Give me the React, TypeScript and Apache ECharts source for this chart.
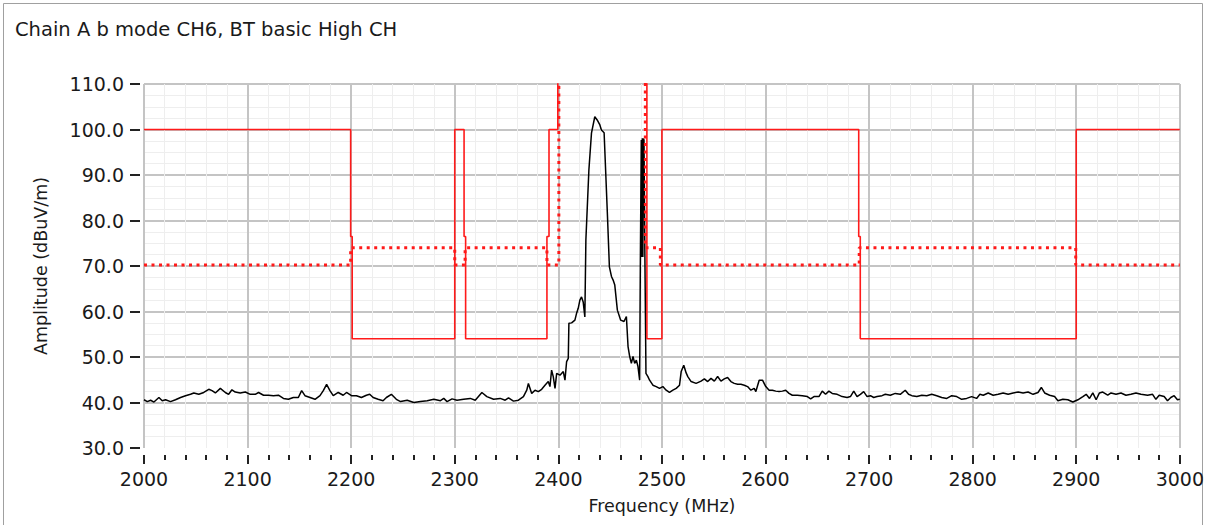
import React, { useEffect, useRef } from "react";
import * as echarts from "echarts";

const titleText = "Chain A b mode CH6, BT basic High CH";
const xAxisName = "Frequency (MHz)";
const yAxisName = "Amplitude (dBuV/m)";

// Measured trace (MHz, dBuV/m)
const traceFreq = [
  2000, 2003.2, 2006.4, 2009.6, 2014.4, 2017.6, 2020.8, 2025.6, 2030.4, 2035.3, 2040.1, 2044.9, 2048.1, 2052.9, 2057.7, 2062.5, 2065.7, 2068.9, 2073.7, 2078.5,
  2081.7, 2084.9, 2088.1, 2092.9, 2097.8, 2102.6, 2107.4, 2110.6, 2115.4, 2120.2, 2125, 2129.8, 2134.6, 2139.4, 2144.2, 2149, 2152.2, 2155.4, 2160.3, 2165.1,
  2169.9, 2173.1, 2176.3, 2179.5, 2182.7, 2187.5, 2192.3, 2195.5, 2200.3, 2205.1, 2209.9, 2214.7, 2217.9, 2221.2, 2226, 2230.8, 2234, 2238.8, 2243.6, 2247.7,
  2254.1, 2260.5, 2266.9, 2273.4, 2279.8, 2286.2, 2289.4, 2292.6, 2297.4, 2302.2, 2308.6, 2315, 2319.8, 2326.2, 2331, 2337.5, 2343.9, 2348.7, 2351.9, 2356.7,
  2361.5, 2366.3, 2369.5, 2371.1, 2374.3, 2377.5, 2380.7, 2383.9, 2387.1, 2390.3, 2391.9, 2393.5, 2395.1, 2396.8, 2398.4, 2401.6, 2404.8, 2406.4, 2408, 2409.6,
  2410.2, 2412.8, 2416, 2417.6, 2419.2, 2420.8, 2422.4, 2424, 2425.6, 2426.6, 2429.5, 2432, 2435.2, 2437.5, 2440.1, 2441.6, 2444.2, 2447.4, 2449.3, 2451.3,
  2452.9, 2454.5, 2457, 2460.2, 2463.4, 2465.7, 2467.3, 2468.9, 2470.5, 2472.1, 2473.7, 2475.3, 2476.9, 2478.5, 2479.2, 2480.1, 2480.6, 2481.1, 2481.6, 2482.1,
  2482.7, 2483.6, 2484.6, 2486.5, 2488.1, 2491.3, 2494.5, 2497.7, 2500.9, 2504.1, 2507.3, 2510.6, 2513.8, 2517, 2518.6, 2521.1, 2523.4, 2525, 2528.2, 2533,
  2537.8, 2541, 2544.2, 2547.4, 2550.6, 2553.8, 2557, 2560.2, 2563.4, 2566.6, 2569.8, 2573.1, 2576.3, 2579.5, 2582.7, 2585.9, 2589.1, 2590.7, 2593.9, 2597.1,
  2600.3, 2603.5, 2606.7, 2609.9, 2613.1, 2616.3, 2619.5, 2622.7, 2625.9, 2630.7, 2635.5, 2640.4, 2643.6, 2646.8, 2651.6, 2654.8, 2658, 2661.2, 2664.4, 2669.2,
  2674, 2678.8, 2682, 2685.2, 2688.4, 2691.6, 2694.8, 2698.1, 2701.3, 2704.5, 2707.7, 2712.5, 2715.7, 2720.5, 2725.3, 2730.1, 2734.9, 2738.1, 2741.3, 2746.1,
  2750.9, 2755.7, 2760.5, 2765.3, 2770.1, 2775, 2779.8, 2784.6, 2789.4, 2794.2, 2799, 2803.8, 2807, 2810.2, 2815, 2819.8, 2824.6, 2829.4, 2834.3, 2839.1,
  2843.9, 2848.7, 2853.5, 2858.3, 2863.1, 2866.3, 2869.5, 2874.3, 2879.1, 2882.3, 2887.1, 2891.9, 2896.7, 2901.6, 2906.4, 2909.6, 2912.8, 2916, 2919.2, 2922.4,
  2925.6, 2930.4, 2933.6, 2938.4, 2943.2, 2948, 2952.8, 2957.6, 2962.5, 2968.9, 2973.7, 2976.9, 2980.1, 2984.9, 2988.1, 2991.3, 2994.5, 2997.7, 3000,
];
const traceAmp = [
  40.6, 40.2, 40.5, 40.1, 41.1, 40.4, 40.6, 40.2, 40.6, 41.1, 41.5, 41.8, 42.1, 41.8, 42.2, 42.9, 42.6, 42.1, 43.1, 42.2,
  41.8, 42.8, 42.3, 42.1, 42.3, 41.8, 41.8, 42.2, 41.6, 41.6, 41.5, 41.6, 40.9, 40.7, 41.1, 41.1, 42.6, 41.5, 41.1, 40.7,
  41.5, 42.6, 44.0, 42.6, 41.5, 42.2, 41.6, 42.2, 41.5, 41.5, 41.1, 41.6, 41.8, 41.1, 40.7, 40.4, 41.1, 41.8, 40.7, 40.2,
  40.5, 40.0, 40.2, 40.4, 40.7, 40.4, 40.9, 40.2, 40.8, 40.5, 40.7, 40.9, 40.5, 42.2, 41.3, 40.7, 40.9, 40.5, 41.0, 40.3,
  40.5, 41.3, 42.7, 44.2, 42.0, 42.7, 42.4, 42.9, 43.8, 44.6, 43.5, 47.1, 45.7, 43.1, 46.4, 46.0, 46.8, 44.9, 49.0, 49.7,
  57.4, 57.5, 58.1, 59.6, 60.7, 62.5, 63.2, 62.1, 58.8, 75.7, 91.1, 99.2, 102.8, 102.1, 101.0, 99.9, 99.3, 81.2, 69.8, 67.7,
  66.9, 65.8, 60.3, 58.1, 57.8, 58.9, 52.3, 50.1, 48.6, 50.1, 48.6, 49.3, 47.9, 44.9, 71.3, 97.7, 72.0, 98.1, 72.0, 98.0,
  97.7, 71.3, 46.4, 45.7, 44.9, 43.8, 43.5, 43.1, 43.5, 42.7, 42.2, 42.7, 43.1, 43.8, 46.8, 48.2, 46.5, 45.7, 44.6, 44.2,
  44.7, 45.2, 44.6, 45.3, 44.7, 45.7, 44.7, 45.2, 45.5, 44.6, 44.2, 44.0, 44.0, 43.8, 43.5, 42.7, 43.1, 42.4, 44.9, 44.9,
  43.5, 42.7, 42.7, 42.5, 42.4, 42.5, 42.7, 42.0, 41.6, 41.6, 41.5, 41.3, 40.8, 41.3, 41.3, 42.5, 41.8, 42.5, 42.0, 41.8,
  41.3, 41.1, 41.3, 42.5, 41.3, 41.8, 42.4, 41.3, 41.5, 41.1, 41.3, 41.5, 41.8, 41.6, 42.0, 41.8, 42.7, 41.8, 41.5, 41.3,
  41.6, 41.5, 41.8, 41.5, 41.1, 40.9, 41.5, 41.3, 40.7, 40.9, 41.3, 40.9, 41.8, 41.6, 42.1, 41.6, 41.8, 42.1, 41.8, 42.1,
  42.3, 42.1, 42.3, 41.8, 42.2, 43.3, 42.1, 41.6, 41.3, 40.4, 40.7, 40.6, 40.1, 40.6, 41.3, 41.8, 40.9, 42.1, 40.6, 42.1,
  42.3, 41.6, 42.1, 41.8, 42.1, 41.6, 41.8, 42.1, 41.8, 41.6, 41.8, 40.7, 41.6, 41.3, 40.4, 41.1, 41.5, 40.6, 40.7,
];

// Peak limit (solid red); "-" marks a gap where the limit is off scale
const peakLimitFreq = [2000, 2199.5, 2199.5, 2201, 2201, 2300, 2300, 2309, 2309, 2310.5, 2310.5, 2389, 2389, 2391, 2391, 2399.5, 2399.5, 2440, 2485.5, 2485.5, 2500, 2500, 2690, 2690, 2691.5, 2691.5, 2900, 2900, 3000];
const peakLimitVal: (number | string)[] = [100, 100, 76.5, 76.5, 54, 54, 100, 100, 76.5, 76.5, 54, 54, 76.5, 76.5, 100, 100, 130, "-", 130, 54, 54, 100, 100, 76.5, 76.5, 54, 54, 100, 100];

// Average limit (dotted red)
const avgLimitFreq = [2000, 2199.5, 2199.5, 2300, 2300, 2310, 2310, 2389, 2389, 2400.5, 2400.5, 2440, 2484, 2484, 2498.5, 2498.5, 2690.5, 2690.5, 2899.5, 2899.5, 3000];
const avgLimitVal: (number | string)[] = [70.2, 70.2, 74, 74, 70.2, 70.2, 74, 74, 70.2, 70.2, 130, "-", 130, 74, 74, 70.2, 70.2, 74, 74, 70.2, 70.2];

const xMin = 2000;
const xMax = 3000;
const xStep = 100;
const yMin = 30;
const yMax = 110;
const yStep = 10;

const FONT = "DejaVu Sans";

export default function App() {
  const ref = useRef<HTMLDivElement>(null);

  useEffect(() => {
    document.body.style.margin = "0";
    if (!ref.current) return;
    const chart = echarts.init(ref.current, undefined, { renderer: "svg" });
    const trace = traceFreq.map((f, i) => [f, traceAmp[i]]);
    const peak = peakLimitFreq.map((f, i) => [f, peakLimitVal[i]]);
    const avg = avgLimitFreq.map((f, i) => [f, avgLimitVal[i]]);

    chart.setOption({
      animation: false,
      backgroundColor: "#ffffff",
      textStyle: { fontFamily: FONT },
      title: {
        text: titleText,
        left: 10,
        top: 14,
        textStyle: { fontFamily: FONT, fontSize: 19.5, fontWeight: "normal", color: "#1a1a1a" },
      },
      graphic: [
        {
          type: "rect",
          shape: { x: 3.5, y: 3.5, width: 1199, height: 540 },
          style: { fill: "none", stroke: "#a0a0a0", lineWidth: 1 },
          silent: true,
        },
      ],
      grid: { left: 144, right: 22, top: 84, bottom: 77, containLabel: false },
      xAxis: {
        type: "value",
        min: xMin,
        max: xMax,
        interval: xStep,
        offset: 7,
        name: xAxisName,
        nameLocation: "middle",
        nameGap: 42,
        nameTextStyle: { fontFamily: FONT, fontSize: 17.5, color: "#1a1a1a" },
        axisLine: { show: false },
        axisTick: { show: true, length: 9, lineStyle: { color: "#222", width: 2 } },
        minorTick: { show: true, splitNumber: 5, length: 5, lineStyle: { color: "#222", width: 2 } },
        axisLabel: {
          fontFamily: FONT,
          fontSize: 19,
          color: "#1a1a1a",
          margin: 14,
          formatter: (v: number) => String(v),
        },
        splitLine: { show: true, lineStyle: { color: "#c4c4c4", width: 2 } },
        minorSplitLine: { show: true, lineStyle: { color: "#eeeeee", width: 1 } },
      },
      yAxis: {
        type: "value",
        min: yMin,
        max: yMax,
        interval: yStep,
        offset: 4,
        name: yAxisName,
        nameLocation: "middle",
        nameGap: 90,
        nameTextStyle: { fontFamily: FONT, fontSize: 17.5, color: "#1a1a1a" },
        axisLine: { show: false },
        axisTick: { show: true, length: 10, lineStyle: { color: "#222", width: 2 } },
        axisLabel: {
          fontFamily: FONT,
          fontSize: 19,
          color: "#1a1a1a",
          margin: 16,
          formatter: (v: number) => v.toFixed(1),
        },
        splitLine: { show: true, showMinLine: false, lineStyle: { color: "#c4c4c4", width: 2 } },
        minorSplitLine: { show: true, lineStyle: { color: "#eeeeee", width: 1 } },
        minorTick: { show: false, splitNumber: 4 },
      },
      series: [
        {
          type: "line",
          data: trace,
          symbol: "none",
          lineStyle: { color: "#000000", width: 1.5 },
          clip: true,
          z: 3,
        },
        {
          type: "line",
          data: peak,
          symbol: "none",
          connectNulls: false,
          lineStyle: { color: "#ff1a1a", width: 1.6 },
          clip: true,
          z: 4,
        },
        {
          type: "line",
          data: avg,
          symbol: "none",
          connectNulls: false,
          lineStyle: { color: "#ff1a1a", width: 3, type: [3, 4.5] },
          clip: true,
          z: 4,
        },
      ],
    });
    return () => chart.dispose();
  }, []);

  return <div ref={ref} style={{ width: 1207, height: 525 }} />;
}
